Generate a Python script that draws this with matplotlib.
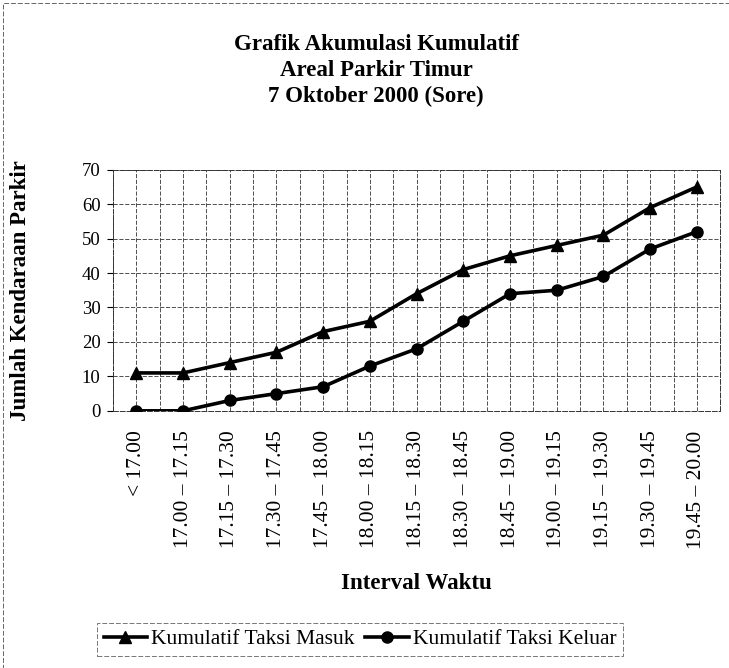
import numpy as np
import matplotlib.pyplot as plt
from matplotlib.patches import Rectangle

plt.rcParams['font.family'] = ['Liberation Serif', 'DejaVu Serif']

# interval waktu (sore) dan data kumulatif taksi
intervals = ['< 17.00', '17.00 – 17.15', '17.15 – 17.30', '17.30 – 17.45',
             '17.45 – 18.00', '18.00 – 18.15', '18.15 – 18.30', '18.30 – 18.45',
             '18.45 – 19.00', '19.00 – 19.15', '19.15 – 19.30', '19.30 – 19.45',
             '19.45 – 20.00']
taksi_masuk = [11, 11, 14, 17, 23, 26, 34, 41, 45, 48, 51, 59, 65]
taksi_keluar = [0, 0, 3, 5, 7, 13, 18, 26, 34, 35, 39, 47, 52]
yticks = [0, 10, 20, 30, 40, 50, 60, 70]

fig = plt.figure(figsize=(7.29, 6.68), dpi=100)
ax = fig.add_axes([0.155, 0.385, 0.833, 0.361])

x = np.arange(len(intervals))
ax.plot(x, taksi_masuk, color='black', lw=2.6, marker='^', ms=9,
        label='Kumulatif Taksi Masuk', zorder=3)
ax.plot(x, taksi_keluar, color='black', lw=2.6, marker='o', ms=8,
        label='Kumulatif Taksi Keluar', zorder=3)

ax.set_xlim(-0.5, len(intervals) - 0.5)
ax.set_ylim(0, 70)
ax.set_yticks(yticks)
ax.set_yticklabels([str(v) for v in yticks], fontsize=13.5)
ax.set_xticks(x)
ax.set_xticklabels(intervals, rotation=90, fontsize=15.5)
ax.tick_params(axis='x', length=0, pad=14)
ax.tick_params(axis='y', length=4, pad=5)

# grid putus-putus: garis di tiap kategori dan di batas kategori
grid_kw = dict(color='#333333', lw=0.6, ls=(0, (5, 2)), zorder=1)
for v in yticks:
    ax.axhline(v, **grid_kw)
for xv in np.arange(-0.5, len(intervals), 0.5):
    ax.axvline(xv, **grid_kw)
for s in ax.spines.values():
    s.set_linestyle((0, (5, 2)))
    s.set_linewidth(0.7)
    s.set_color('#333333')

ax.set_ylabel('Jumlah Kendaraan Parkir', fontsize=16.5, fontweight='bold')
ax.yaxis.set_label_coords(-0.135, 0.5)
fig.text(0.571, 0.127, 'Interval Waktu', ha='center', va='center',
         fontsize=16.5, fontweight='bold')

fig.text(0.516, 0.934, 'Grafik Akumulasi Kumulatif', ha='center', va='center',
         fontsize=16.5, fontweight='bold')
fig.text(0.516, 0.894, 'Areal Parkir Timur', ha='center', va='center',
         fontsize=16.5, fontweight='bold')
fig.text(0.516, 0.855, '7 Oktober 2000 (Sore)', ha='center', va='center',
         fontsize=16.5, fontweight='bold')

leg = fig.legend(loc='center', bbox_to_anchor=(0.494, 0.043), ncol=2,
                 fontsize=15.5, frameon=True, fancybox=False,
                 handlelength=2.0, handletextpad=0.2, columnspacing=0.5,
                 borderpad=0.3)
leg.get_frame().set_edgecolor('#555555')
leg.get_frame().set_linestyle((0, (5, 2)))
leg.get_frame().set_linewidth(0.7)

# bingkai luar grafik
fig.patches.append(Rectangle((0.004, -0.05), 1.2, 1.046, transform=fig.transFigure,
                             fill=False, ec='#666666', lw=0.7, ls=(0, (5, 2))))

fig.savefig('out.png', dpi=100)
